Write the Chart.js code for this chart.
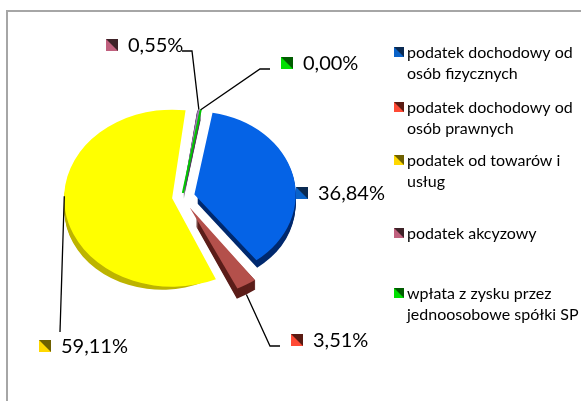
<!DOCTYPE html>
<html>
<head>
<meta charset="utf-8">
<script src="https://cdn.jsdelivr.net/npm/chart.js@4.4.0/dist/chart.umd.min.js"></script>
<style>
  html, body { margin: 0; padding: 0; background: #fff; }
  #wrap { width: 581px; height: 401px; position: relative; }
</style>
</head>
<body>
<div id="wrap"><canvas id="pie" width="581" height="401"></canvas></div>
<script>
// --- data ---
const categories = [
  ['podatek dochodowy od', 'osób fizycznych'],
  ['podatek dochodowy od', 'osób prawnych'],
  ['podatek od towarów i', 'usług'],
  ['podatek akcyzowy'],
  ['wpłata z zysku przez', 'jednoosobowe spółki SP']
];
const shares = [36.84, 3.51, 59.11, 0.55, 0.004];

// --- style ---
const topColors = ['#0563e6', '#b4504b', '#ffff00', '#9c7fb0', '#00c800'];
const sideColors = ['#00296e', '#5c1e1a', '#bdb400', '#5a3a66', '#007000'];
const markLight = ['#0a62c8', '#ff4a35', '#ffd800', '#c0607e', '#00e000'];
const markDark = ['#0a2a52', '#5a1a12', '#6e6000', '#3e2228', '#005c00'];
const explode = [51, 60, 40, 20, 20];

const TILT = 0.82, DEPTH = 10;

// same displacement rule ArcElement.draw uses for options.offset
const shiftOf = (arc) => {
  const off = (arc.options.offset || 0) / 4;
  const fix = 1 - Math.sin(Math.min(Math.PI, arc.circumference || 0));
  return off * (1 + fix);
};

const tiltAbout = (ctx, cx, cy, dy) => {
  ctx.translate(cx, cy + dy);
  ctx.scale(1, TILT);
  ctx.translate(-cx, -cy);
};

const tiltPlugin = {
  id: 'tilt',
  beforeDraw(chart) {
    const ctx = chart.ctx;
    ctx.save();
    ctx.strokeStyle = '#a6a6a6';
    ctx.lineWidth = 2;
    ctx.beginPath();
    ctx.moveTo(7, 410); ctx.lineTo(7, 11); ctx.lineTo(590, 11);
    ctx.stroke();
    ctx.restore();
  },
  beforeDatasetsDraw(chart) {
    const ctx = chart.ctx;
    const arcs = chart.getDatasetMeta(0).data;
    const cx = arcs[0].x, cy = arcs[0].y;
    for (let d = DEPTH; d >= 1; d--) {
      ctx.save();
      tiltAbout(ctx, cx, cy, d);
      arcs.forEach((arc, i) => {
        const mid = (arc.startAngle + arc.endAngle) / 2;
        const s = shiftOf(arc);
        const ox = arc.x + Math.cos(mid) * s, oy = arc.y + Math.sin(mid) * s;
        ctx.beginPath();
        ctx.moveTo(ox, oy);
        ctx.arc(ox, oy, arc.outerRadius, arc.startAngle, arc.endAngle);
        ctx.closePath();
        ctx.fillStyle = sideColors[i];
        ctx.fill();
      });
      ctx.restore();
    }
    ctx.save();
    tiltAbout(ctx, cx, cy, 0);
  },
  afterDatasetsDraw(chart) {
    chart.ctx.restore();
  }
};

// label boxes: marker left x, text middle y, leader elbows
const labelBoxes = [
  { x: 296, y: 193, line: [] },
  { x: 291, y: 340, line: [[280, 346], [270, 346]], t: 0.5 },
  { x: 39, y: 346, line: [[60, 332]], t: 0.55 },
  { x: 106, y: 45, line: [[182, 51], [192, 51]], t: 0.5 },
  { x: 281, y: 63, line: [[270, 69], [260, 69]], t: 0.5 }
];

const drawMark = (ctx, x, y, size, i) => {
  ctx.fillStyle = markLight[i];
  ctx.fillRect(x, y, size, size);
  ctx.fillStyle = markDark[i];
  ctx.beginPath();
  ctx.moveTo(x, y); ctx.lineTo(x + size, y); ctx.lineTo(x + size, y + size);
  ctx.closePath();
  ctx.fill();
};

const labelPlugin = {
  id: 'labels',
  afterDraw(chart) {
    const ctx = chart.ctx;
    const arcs = chart.getDatasetMeta(0).data;
    ctx.save();
    // data labels
    ctx.font = '20px Lato';
    ctx.textBaseline = 'middle';
    arcs.forEach((arc, i) => {
      const b = labelBoxes[i];
      drawMark(ctx, b.x, b.y - 6, 12, i);
      ctx.fillStyle = '#000';
      ctx.fillText(shares[i].toFixed(2).replace('.', ',') + '%', b.x + 22, b.y + 1);
      if (!b.line.length) return;
      const mid = (arc.startAngle + arc.endAngle) / 2;
      const a = arc.startAngle + (b.t || 0.5) * (arc.endAngle - arc.startAngle);
      const s = shiftOf(arc);
      const px = arc.x + Math.cos(mid) * s + Math.cos(a) * arc.outerRadius;
      let py = arc.y + (Math.sin(mid) * s + Math.sin(a) * arc.outerRadius) * TILT;
      if (Math.sin(a) > 0.3) py += DEPTH;
      ctx.strokeStyle = '#000';
      ctx.lineWidth = 1.3;
      ctx.beginPath();
      b.line.forEach(([lx, ly], k) => (k ? ctx.lineTo(lx, ly) : ctx.moveTo(lx, ly)));
      ctx.lineTo(px, py);
      ctx.stroke();
    });
    // legend
    const legendTop = [52, 107, 160, 233, 293];
    ctx.font = '16px Lato';
    categories.forEach((lines, i) => {
      drawMark(ctx, 394, legendTop[i] - 5, 10, i);
      ctx.fillStyle = '#000';
      lines.forEach((txt, k) => ctx.fillText(txt, 407, legendTop[i] + k * 21 + 1));
    });
    ctx.restore();
  }
};

new Chart(document.getElementById('pie'), {
  type: 'pie',
  data: {
    labels: categories.map(l => l.join(' ')),
    datasets: [{
      data: shares,
      backgroundColor: topColors,
      borderWidth: [0, 0, 0, 0, 2],
      borderColor: topColors,
      offset: explode
    }]
  },
  options: {
    responsive: false,
    animation: false,
    events: [],
    radius: 98,
    rotation: 10,
    layout: { padding: { left: 52, right: 269, top: 59, bottom: 66 } },
    plugins: { legend: { display: false }, tooltip: { enabled: false } }
  },
  plugins: [tiltPlugin, labelPlugin]
});
</script>
</body>
</html>
